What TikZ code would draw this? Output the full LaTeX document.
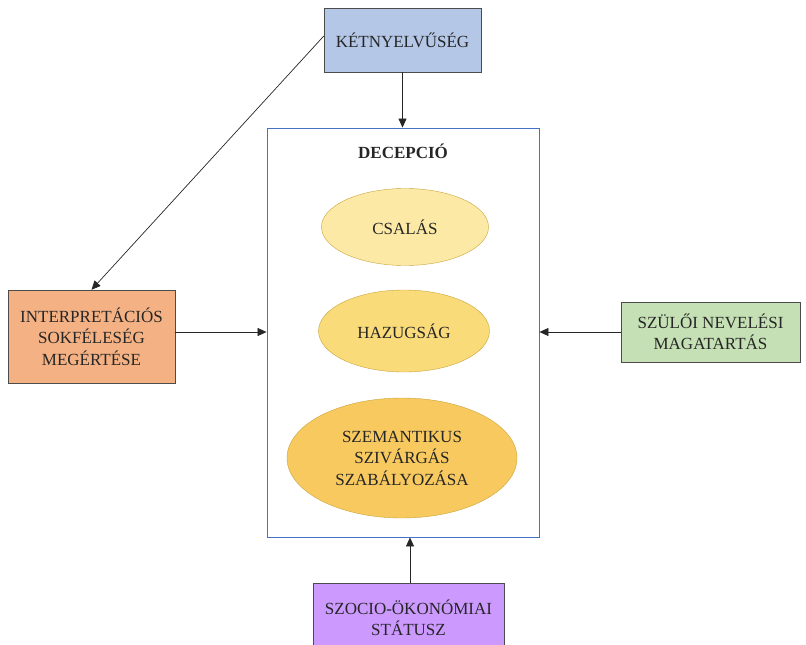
\documentclass[tikz,border=0pt]{standalone}
\usepackage{fontspec}
\setmainfont{Liberation Serif}
\usetikzlibrary{arrows.meta, positioning, shapes.geometric}

\definecolor{ketblue}{HTML}{B4C7E7}
\definecolor{intorange}{HTML}{F4B183}
\definecolor{szulgreen}{HTML}{C5E0B4}
\definecolor{szocpurple}{HTML}{CC99FF}
\definecolor{framblue}{HTML}{4472C4}
\definecolor{ellA}{HTML}{FDE9A6}
\definecolor{ellB}{HTML}{FADB79}
\definecolor{ellC}{HTML}{F7C95F}
\definecolor{ellline}{HTML}{C9A43A}

\tikzset{
  factor/.style={
    draw=black!70,
    rectangle,
    align=center,
    inner sep=0pt,
    font=\fontsize{17}{21.5}\selectfont,
    text=black!85,
  },
  kind/.style={
    draw=ellline,
    ellipse,
    align=center,
    inner sep=0pt,
    font=\fontsize{17}{21.5}\selectfont,
    text=black!85,
  },
  arrow/.style={
    -{Triangle[length=9pt,width=8pt]},
    black!85,
    line width=0.7pt
  }
}

\begin{document}
\begin{tikzpicture}[x=1pt,y=-1pt]
  \useasboundingbox (0,0) rectangle (806,645);

  % central frame with its three forms
  \node[draw=framblue, line width=0.9pt, minimum width=272pt, minimum height=409pt] (dec) at (403,332.5) {};
  \node[font=\fontsize{17}{21.5}\selectfont\bfseries, text=black!85] (title) at (403,151) {DECEPCIÓ};
  \node[kind, fill=ellA, minimum width=167pt, minimum height=77pt] (csal) at (405,227) {CSALÁS};
  \node[kind, fill=ellB, minimum width=171pt, minimum height=82pt] (hazu) at (404,331) {HAZUGSÁG};
  \node[kind, fill=ellC, minimum width=230pt, minimum height=120pt] (szem) at (402,458) {SZEMANTIKUS\\SZIVÁRGÁS\\SZABÁLYOZÁSA};

  % outside factors
  \node[factor, fill=ketblue, minimum width=157pt, minimum height=64pt] (ket) at (402.5,40) {KÉTNYELVŰSÉG};
  \node[factor, fill=intorange, minimum width=167pt, minimum height=93pt] (intp) at (91.5,336.5) {INTERPRETÁCIÓS\\SOKFÉLESÉG\\MEGÉRTÉSE};
  \node[factor, fill=szulgreen, minimum width=179pt, minimum height=60pt] (szul) at (710.5,332) {SZÜLŐI NEVELÉSI\\MAGATARTÁS};
  \node[factor, fill=szocpurple, minimum width=191pt, minimum height=70pt] (szoc) at (408.5,618) {SZOCIO-ÖKONÓMIAI\\STÁTUSZ};

  \draw[arrow] (ket.south) -- (ket.south |- dec.north);
  \draw[arrow] (ket.west |- 0,36) -- (intp.north);
  \draw[arrow] (intp.east |- 0,332) -- (dec.west |- 0,332);
  \draw[arrow] (szul.west) -- (dec.east |- szul.west);
  \draw[arrow] (szoc.north -| 410,0) -- (dec.south -| 410,0);
\end{tikzpicture}
\end{document}
